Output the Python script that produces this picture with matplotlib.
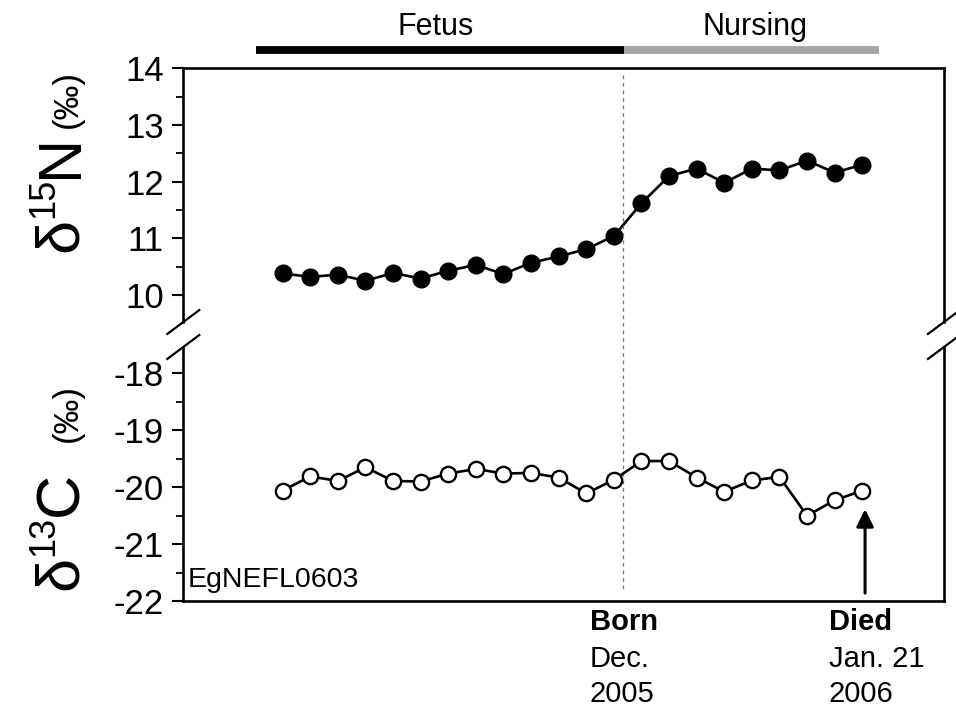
import matplotlib
matplotlib.use('Agg')
import matplotlib.pyplot as plt
from matplotlib.ticker import MultipleLocator

plt.rcParams['font.family'] = ['Liberation Sans', 'DejaVu Sans']
plt.rcParams['axes.unicode_minus'] = False

# sample number along the whisker / tooth, oldest to youngest
sample = list(range(22))
n15 = [10.38, 10.32, 10.36, 10.25, 10.39, 10.29, 10.43, 10.53, 10.37, 10.57, 10.68,
       10.81, 11.04, 11.62, 12.10, 12.23, 11.98, 12.23, 12.20, 12.37, 12.16, 12.30]
c13 = [-20.06, -19.81, -19.89, -19.65, -19.89, -19.90, -19.76, -19.68, -19.76, -19.75, -19.83,
       -20.11, -19.87, -19.54, -19.54, -19.83, -20.08, -19.88, -19.82, -20.50, -20.23, -20.06]

# life stages (in sample units)
phases = ['Fetus', 'Nursing']
phase_start = [-0.97, 12.37]
phase_end = [12.37, 21.6]
phase_color = ['black', '#a4a4a4']
born_x = 12.34
died_x = 21.1
specimen = 'EgNEFL0603'

W, H = 956, 711
fig = plt.figure(figsize=(W / 100, H / 100), dpi=100)
left, right = 183.3, 944
ax_top = fig.add_axes([left / W, 1 - 322 / H, (right - left) / W, 253.7 / H])
ax_bot = fig.add_axes([left / W, 1 - 601 / H, (right - left) / W, 254 / H])
for ax in (ax_top, ax_bot):
    ax.set_facecolor('none')

ax_top.plot(sample, n15, '-o', color='black', lw=1.9, ms=12, mfc='black', mec='black')
ax_bot.plot(sample, c13, '-o', color='black', lw=1.9, ms=11, mfc='white', mec='black', mew=1.7)

ax_top.set_ylim(9.524, 14)
ax_bot.set_ylim(-22, -17.536)
for ax in (ax_top, ax_bot):
    ax.set_xlim(-3.60, 23.96)
    ax.set_xticks([])
    ax.yaxis.set_major_locator(MultipleLocator(1))
    ax.yaxis.set_minor_locator(MultipleLocator(0.5))
    ax.tick_params(axis='y', which='major', direction='out', length=8, width=1.5,
                   labelsize=25, pad=6)
    ax.tick_params(axis='y', which='minor', direction='out', length=5, width=1.3)
    for s in ax.spines.values():
        s.set_linewidth(1.9)
ax_top.set_yticks([10, 11, 12, 13, 14])
ax_bot.set_yticks([-22, -21, -20, -19, -18])
ax_top.spines['bottom'].set_visible(False)
ax_bot.spines['top'].set_visible(False)

# axis break marks
dx, dy = 0.021, 0.047
for ax, yb in ((ax_top, 0), (ax_bot, 1)):
    for xb in (0, 1):
        ax.plot([xb - dx, xb + dx], [yb - dy, yb + dy], transform=ax.transAxes,
                color='black', lw=1.6, clip_on=False)

# birth line crossing both panels
ax_top.plot([born_x, born_x], [0.974, -1.056], transform=ax_top.get_xaxis_transform(),
            color='#777777', lw=0.9, ls=(0, (3, 3)), clip_on=False)

# life stage bar
xt = ax_top.get_xaxis_transform()
for name, a, b, c in zip(phases, phase_start, phase_end, phase_color):
    ax_top.plot([a, b], [1.073, 1.073], transform=xt, color=c, lw=5.6,
                solid_capstyle='butt', clip_on=False)
ax_top.text(5.55, 1.131, phases[0], transform=xt, ha='center', va='baseline', fontsize=22)
ax_top.text(17.12, 1.131, phases[1], transform=xt, ha='center', va='baseline', fontsize=22)

# death arrow
ax_bot.annotate('', xy=(died_x, -20.34), xytext=(died_x, -21.91),
                arrowprops=dict(arrowstyle='-|>', color='black', lw=2.2, mutation_scale=26))

ax_bot.text(0.006, 0.055, specimen, transform=ax_bot.transAxes, fontsize=20.5,
            ha='left', va='baseline')

# event labels under the axis
for x, lines in ((born_x - 1.21, ['Born', 'Dec.', '2005']),
                 (died_x - 1.31, ['Died', 'Jan. 21', '2006'])):
    for i, (txt, off) in enumerate(zip(lines, [20.9, 47.5, 72.7])):
        ax_bot.annotate(txt, xy=(x, 0), xycoords=('data', 'axes fraction'),
                        xytext=(0, -off), textcoords='offset points',
                        ha='left', va='baseline', fontsize=21,
                        fontweight='bold' if i == 0 else 'normal')

# y-axis labels built from pieces (big delta, small superscript, small per-mil)
renderer = fig.canvas.get_renderer()


def stacked_label(parts, x_px, y_px):
    y = y_px
    for s, size, rise, gap in parts:
        t = fig.text((x_px - rise) / W, y / H, s, rotation=90, rotation_mode='anchor',
                     ha='left', va='baseline', fontsize=size)
        y += t.get_window_extent(renderer).height + gap


stacked_label([('δ', 44, 0, 0), ('15', 26, 24, 0), ('N', 44, 0, 6), ('(‰)', 25, 0, 0)],
              77, H - 252)
stacked_label([('δ', 44, 0, 0), ('13', 26, 24, 0), ('C', 44, 0, 30), ('(‰)', 25, 0, 0)],
              77, H - 590)

fig.savefig('out.png', dpi=100)
